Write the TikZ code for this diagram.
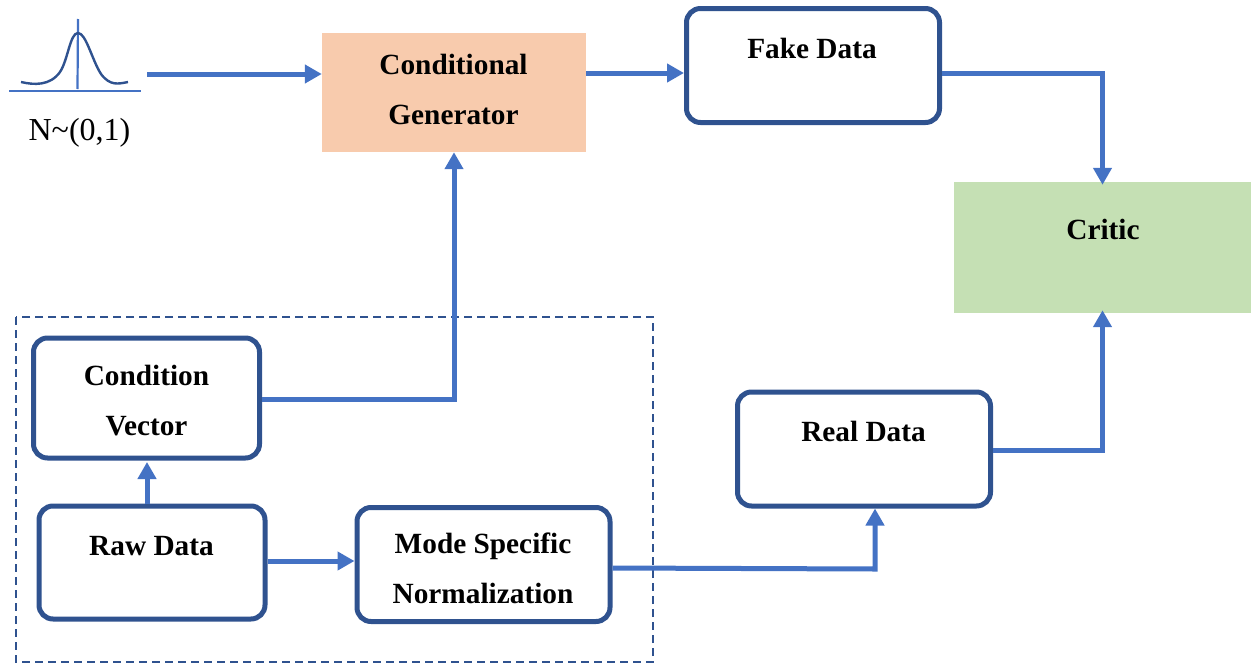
\documentclass[tikz,border=0pt]{standalone}
\usepackage{fontspec}
\setmainfont{Liberation Serif}
\usetikzlibrary{arrows.meta}
\definecolor{boxb}{HTML}{2F528F}
\definecolor{arr}{HTML}{4472C4}
\definecolor{gen}{HTML}{F8CBAD}
\definecolor{cri}{HTML}{C5E0B4}
\tikzset{
 rbox/.style={draw=boxb,line width=5pt,rounded corners=14pt,fill=white,inner sep=0pt},
 fbox/.style={inner sep=0pt,draw=none},
 lab/.style={font=\fontsize{29.3}{29.3}\selectfont\bfseries,inner sep=0pt,anchor=base},
 conn/.style={draw=arr,line width=5pt,-{Triangle[length=17pt,width=18pt]}},
}
\begin{document}
\begin{tikzpicture}[x=1pt,y=-1pt]
\useasboundingbox (0,0) rectangle (1260,664);
\draw[boxb,line width=2pt,dash pattern=on 8pt off 5pt] (16,317) rectangle (653,662);
\node[fbox,fill=gen,minimum width=264pt,minimum height=119pt] (gen) at (454,92.5) {};
\node[fbox,fill=cri,minimum width=297pt,minimum height=131pt] (cri) at (1102.5,247.5) {};
\node[rbox,minimum width=253pt,minimum height=114pt] (fake) at (813,65.5) {};
\node[rbox,minimum width=226pt,minimum height=120pt] (cond) at (146.5,398) {};
\node[rbox,minimum width=226pt,minimum height=113pt] (raw) at (152,562.5) {};
\node[rbox,minimum width=253pt,minimum height=114pt] (mode) at (483.5,564.5) {};
\node[rbox,minimum width=253pt,minimum height=114pt] (real) at (864,449) {};
\node[lab] (t1) at (453.5,74) {Conditional};
\node[lab] (t2) at (453.5,124) {Generator};
\node[lab] (t3) at (812,58.5) {Fake Data};
\node[lab] (t4) at (1103,239) {Critic};
\node[lab] (t5) at (146.5,385) {Condition};
\node[lab] (t6) at (146.5,435) {Vector};
\node[lab] (t7) at (151.5,555) {Raw Data};
\node[lab] (t8) at (483,553) {Mode Specific};
\node[lab] (t9) at (483,603) {Normalization};
\node[lab] (t10) at (863.5,441) {Real Data};
\node[font=\fontsize{32}{32}\selectfont,inner sep=0pt,anchor=base] (nt) at (79.5,140) {N\textasciitilde(0,1)};
\coordinate (gs) at (147,74);
\draw[arr,line width=2.2pt] (9,91) -- (141,91);
\draw[arr,line width=2.2pt] (78,19) -- (77.5,89);
\draw[boxb,line width=2.4pt] (21,82) .. controls (34,85) and (50,86) .. (60,72) .. controls (68,60) and (70,33) .. (78,33) .. controls (86,33) and (92,60) .. (101,74) .. controls (110,86) and (118,84) .. (128,82);
\draw[conn] (gs) -- (gen.west |- gs);
\draw[conn] (gen.east |- 0,73) -- (fake.west |- 0,73);
\draw[conn,shorten >=-3pt] (fake.east |- 0,73) -- (1102.5,73) -- (cri.north -| 1102.5,0);
\draw[conn] (cond.east |- 0,399) -- (454,399) -- (gen.south);
\draw[conn,shorten >=1.5pt] (raw.north -| 147,0) -- (cond.south -| 147,0);
\draw[conn] (raw.east |- 0,561) -- (mode.west |- 0,561);
\draw[conn] (mode.east |- 0,568) -- (875,569) -- (real.south -| 875,0);
\draw[conn,shorten >=-3pt] (real.east |- 0,450) -- (1102.5,450) -- (cri.south -| 1102.5,0);
\end{tikzpicture}
\end{document}
